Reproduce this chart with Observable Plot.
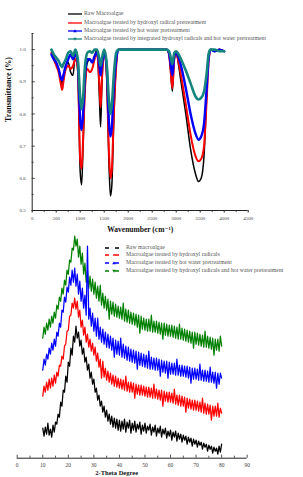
<!DOCTYPE html>
<html><head><meta charset="utf-8">
<script src="https://cdn.jsdelivr.net/npm/d3@7"></script>
<script src="https://cdn.jsdelivr.net/npm/@observablehq/plot@0.6"></script>
<style>
body{margin:0;background:#fff;}
#wrap{position:relative;width:303px;height:477px;overflow:hidden;font-family:"Liberation Serif","DejaVu Serif",serif;}
#wrap svg.plotsvg{position:absolute;left:0;background:transparent;overflow:visible;}
.leg{position:absolute;font-size:5.8px;color:#555;white-space:nowrap;line-height:1;}
.leg svg{position:absolute;top:0;left:0;}
</style></head>
<body><div id="wrap"></div>
<script>
// ---------- FTIR (top) ----------
const ftirWavenumber = [400,450,500,550,600,625,650,700,750,800,850,900,950,1000,1030,1060,1100,1150,1200,1250,1300,1350,1400,1425,1450,1500,1550,1600,1630,1660,1700,1750,1800,1850,2000,2500,2800,2850,2880,2920,2960,3000,3050,3100,3200,3300,3400,3465,3520,3580,3630,3680,3720,3800,3900,4000];
const ftirRaw = [1.0,0.975,0.96,0.94,0.91,0.89,0.92,0.95,0.96,0.93,0.92,0.99,0.93,0.62,0.58,0.70,0.88,0.96,0.97,0.96,0.98,1.0,0.85,0.76,0.88,0.99,0.92,0.64,0.545,0.58,0.78,0.95,1.0,1.0,1.0,1.0,1.0,0.985,0.94,0.87,0.97,0.99,0.95,0.90,0.80,0.69,0.615,0.59,0.60,0.67,0.84,0.99,1.0,0.995,1.0,0.995];
const ftirHydroxyl = [0.99,0.97,0.95,0.93,0.89,0.875,0.90,0.94,0.95,0.94,0.95,0.97,0.94,0.66,0.63,0.72,0.88,0.94,0.93,0.94,0.97,0.99,0.89,0.82,0.90,0.99,0.93,0.68,0.60,0.63,0.80,0.95,1.0,1.0,1.0,1.0,1.0,0.985,0.94,0.88,0.97,0.99,0.96,0.92,0.83,0.735,0.67,0.653,0.66,0.70,0.83,0.97,1.0,0.995,1.0,0.995];
const ftirHotWater = [0.985,0.97,0.96,0.94,0.91,0.905,0.92,0.95,0.97,0.985,0.97,0.99,0.96,0.78,0.75,0.80,0.92,0.97,0.97,0.96,0.98,0.99,0.95,0.92,0.95,0.99,0.95,0.77,0.73,0.76,0.88,0.97,1.0,1.0,1.0,1.0,1.0,0.99,0.96,0.92,0.98,0.99,0.975,0.95,0.88,0.80,0.74,0.72,0.73,0.77,0.87,0.98,1.0,0.995,1.0,0.995];
const ftirIntegrated = [1.0,0.985,0.975,0.965,0.95,0.945,0.955,0.97,0.99,0.995,0.98,1.0,0.97,0.85,0.815,0.85,0.95,0.99,0.995,0.99,1.0,1.0,0.97,0.95,0.97,1.0,0.96,0.84,0.80,0.83,0.92,0.99,1.0,1.0,1.0,1.0,1.0,0.995,0.98,0.955,0.99,0.995,0.985,0.97,0.935,0.895,0.855,0.845,0.85,0.87,0.92,0.99,1.0,1.0,0.995,0.995];
const ftirLegend = ["Raw Macroalgae","Macroalgae treated by hydroxyl radical pretreatment","Macroalgae treated by hot water pretreatment","Macroalgae treated by integrated hydroxyl radicals and hot water pretreatment"];
const ftirColors = ["#000000","#ff0000","#0000ff","#15857d"];
const ftirXTicks = [0,500,1000,1500,2000,2500,3000,3500,4000,4500];
const ftirXMinor = [250,750,1250,1750,2250,2750,3250,3750,4250];
const ftirYTicks = [0.5,0.6,0.7,0.8,0.9,1.0];
const ftirYMinor = [0.55,0.65,0.75,0.85,0.95,1.05];

// ---------- XRD (bottom) ----------
const xrdTwoTheta = [10,10.5,11,11.5,12,12.5,13,13.5,14,14.5,15,15.5,16,16.5,17,17.5,18,18.5,19,19.5,20,20.5,21,21.5,22,22.5,23,23.5,24,24.5,25,25.5,26,26.5,27,27.5,28,28.5,29,29.5,30,30.5,31,31.5,32,32.5,33,33.5,34,34.5,35,35.5,36,36.5,37,37.5,38,38.5,39,39.5,40,40.5,41,41.5,42,42.5,43,43.5,44,44.5,45,45.5,46,46.5,47,47.5,48,48.5,49,49.5,50,50.5,51,51.5,52,52.5,53,53.5,54,54.5,55,55.5,56,56.5,57,57.5,58,58.5,59,59.5,60,60.5,61,61.5,62,62.5,63,63.5,64,64.5,65,65.5,66,66.5,67,67.5,68,68.5,69,69.5,70,70.5,71,71.5,72,72.5,73,73.5,74,74.5,75,75.5,76,76.5,77,77.5,78,78.5,79,79.5,80];
const xrdRaw = [30,22,31,24,35,23,29,21,33,26, 36,34,44,41,56,52,68,66,82,76, 96,92,110,103,122,116,132,120,126,112, 118,104,110,96,101,88,94,80,86,74, 79,66,70,58,63,52,57,46,52,41, 48,37,44,34,42,31,40,30,39,28, 38,27,37,29,39,26,36,30,38,25, 35,28,37,26,34,29,36,24,33,27, 35,25,32,28,34,23,31,26,33,22, 30,25,32,21,29,24,30,20,27,22, 28,18,26,21,27,17,25,19,24,16, 23,18,22,14,21,16,20,12,19,14, 18,11,17,13,16,9,15,11,14,7, 13,9,12,5,11,7,10,4,12,6, 14];
const xrdHydroxyl = [62,72,66,76,68,79,70,80,72,83, 75,86,82,93,92,102,99,112,114,127, 128,142,143,155,150,160,149,157,141,148, 131,138,123,131,116,124,111,119,107,115, 103,111,97,105,91,99,80,97,81,90, 78,87,76,85,74,83,72,82,71,80, 70,79,69,78,68,82,67,76,66,76, 66,75,60,74,64,73,63,73,63,72, 62,71,61,71,61,70,60,74,60,69, 59,68,58,68,52,67,57,66,56,66, 56,65,55,69,54,63,53,63,52,62, 52,61,46,60,50,59,49,58,48,58, 48,57,47,56,46,60,45,55,44,54, 44,53,38,52,42,52,42,55,41,50, 45];
const xrdHotWater = [88,99,93,104,99,110,104,115,108,119, 112,126,122,135,131,148,146,161,156,171, 166,181,173,188,176,190,172,184,164,177, 157,170,150,163,143,212,139,150,132,145, 127,140,122,140,119,131,116,129,114,126, 111,124,110,122,108,120,101,118,104,117, 103,120,101,114,100,112,98,111,97,109, 96,108,95,107,89,106,93,105,92,104, 91,103,90,107,89,101,89,100,88,100, 88,99,82,98,86,97,85,97,80,96, 84,95,84,95,83,99,83,93,82,93, 82,92,81,92,80,91,75,90,79,90, 79,89,78,94,78,88,77,88,77,87, 76,91,76,86,75,86,70,85,74,85, 80];
const xrdIntegrated = [120,131,124,135,128,139,131,142,135,146, 140,153,149,161,157,170,164,178,173,188, 184,198,196,210,208,222,212,219,201,212, 194,205,184,195,176,188,170,182,167,179, 164,176,160,172,157,173,153,165,150,162, 148,159,139,157,144,156,142,154,141,152, 140,151,139,155,137,149,136,148,135,146, 134,145,133,144,131,143,125,142,129,140, 128,139,127,139,127,143,126,137,126,137, 125,136,124,135,119,135,123,134,122,133, 122,133,121,132,120,131,119,134,119,130, 118,129,117,128,116,127,115,126,110,126, 114,125,113,124,112,123,111,127,111,122, 110,121,109,120,103,119,108,119,107,122, 112];
const xrdLegend = ["Raw macroalgae","Macroalgae treated by hydroxyl radicals","Macroalgae treated by hot water pretreatment","Macroalgae treated by hydroxyl radicals and hot water pretreatment"];
const xrdColors = ["#000000","#ff0000","#0000ff","#008000"];
const xrdXTicks = [0,10,20,30,40,50,60,70,80,90];
const xrdXMinor = [5,15,25,35,45,55,65,75,85];

const FONT = '"Liberation Serif","DejaVu Serif",serif';
const wrap = document.getElementById("wrap");

// ---------- top chart ----------
const ftirSeries = [ftirRaw, ftirHydroxyl, ftirHotWater, ftirIntegrated];
const ftirWidths = [1.5, 2, 2.4, 2.6];
const ftirChart = Plot.plot({
  width: 303, height: 240,
  marginLeft: 31.7, marginRight: 55.3, marginTop: 33, marginBottom: 30,
  x: {domain: [0, 4500]},
  y: {domain: [0.5, 1.05]},
  style: {fontFamily: FONT, fontSize: "5px", background: "transparent", color: "#333"},
  marks: [
    ...ftirSeries.map((s, k) => Plot.line(s, {x: (d, i) => ftirWavenumber[i], y: d => d, stroke: ftirColors[k], strokeWidth: ftirWidths[k], curve: "monotone-x"})),
    Plot.ruleX([0], {y1: 0.5, y2: 1.05, stroke: "#222", strokeWidth: 1}),
    Plot.ruleY([0.5], {x1: 0, x2: 4500, stroke: "#222", strokeWidth: 1}),
    Plot.ruleY(ftirYTicks, {y: d => d, x1: 0, x2: 65, stroke: "#222", strokeWidth: 0.8}),
    Plot.ruleY(ftirYMinor, {y: d => d, x1: 0, x2: 40, stroke: "#222", strokeWidth: 0.8}),
    Plot.axisX(ftirXTicks, {tickSize: 2.5, tickPadding: 3, tickFormat: d => String(d), fill: "#444", stroke: "#222", label: null}),
    Plot.axisX(ftirXMinor, {tickSize: 1.8, tickFormat: () => "", stroke: "#222", label: null}),
    Plot.axisY(ftirYTicks, {tickSize: 0, tickPadding: 6.5, tickFormat: d3.format(".1f"), fill: "#444", label: null}),
    Plot.text(["Transmittance (%)"], {frameAnchor: "left", rotate: -90, dx: -24, fontSize: 8, fontWeight: "bold", fill: "#111"}),
    Plot.text(["Wavenumber (cm\u207B\u00B9)"], {frameAnchor: "bottom", dy: 21, fontSize: 7.5, fontWeight: "bold", fill: "#111"})
  ]
});
ftirChart.classList.add("plotsvg");
ftirChart.style.top = "0px";
wrap.appendChild(ftirChart);

// ---------- bottom chart ----------
const xrdSeries = [xrdRaw, xrdHydroxyl, xrdHotWater, xrdIntegrated];
const xrdChart = Plot.plot({
  width: 303, height: 252,
  marginLeft: 16.7, marginRight: 56.3, marginTop: 7.7, marginBottom: 19.3,
  x: {domain: [0, 90]},
  y: {domain: [0, 225], axis: null},
  style: {fontFamily: FONT, fontSize: "5.5px", background: "transparent", color: "#333"},
  marks: [
    ...[3, 2, 1, 0].map(k => Plot.line(xrdSeries[k], {x: (d, i) => xrdTwoTheta[i], y: d => d, stroke: xrdColors[k], strokeWidth: 1.25})),
    Plot.ruleY([0], {x1: 0, x2: 90, stroke: "#222", strokeWidth: 1}),
    Plot.ruleX(xrdXTicks, {x: d => d, y1: 0, y2: 3, stroke: "#222", strokeWidth: 0.8}),
    Plot.ruleX(xrdXMinor, {x: d => d, y1: 0, y2: 2, stroke: "#222", strokeWidth: 0.8}),
    Plot.axisX(xrdXTicks, {tickSize: 0, tickPadding: 5, fill: "#444", label: null}),
    Plot.text(["2-Theta Degree"], {frameAnchor: "bottom", dy: 16.5, dx: -15.5, fontSize: 6.5, fontWeight: "bold", fill: "#111"})
  ]
});
xrdChart.classList.add("plotsvg");
xrdChart.style.top = "225px";
wrap.appendChild(xrdChart);

// ---------- legends ----------
function marker(kind, cx, cy, color) {
  if (kind === "up") return `<path d="M${cx},${cy-1.8}L${cx+1.8},${cy+1.3}L${cx-1.8},${cy+1.3}Z" fill="${color}"/>`;
  if (kind === "down") return `<path d="M${cx},${cy+1.8}L${cx+1.8},${cy-1.3}L${cx-1.8},${cy-1.3}Z" fill="${color}"/>`;
  if (kind === "dot") return `<circle cx="${cx}" cy="${cy}" r="0.9" fill="${color}"/>`;
  return "";
}
const topYs = [14, 22.5, 31, 39];
const topMarks = ["", "", "up", "down"];
ftirLegend.forEach((t, k) => {
  const d = document.createElement("div");
  d.className = "leg";
  d.style.left = "68px"; d.style.top = (topYs[k] - 3) + "px";
  d.innerHTML = `<svg width="16" height="6"><line x1="0" x2="14" y1="3" y2="3" stroke="${ftirColors[k]}" stroke-width="1.3"/>${marker(topMarks[k], 7, 3, ftirColors[k])}</svg><span style="position:absolute;left:16px;top:0.2px">${t}</span>`;
  wrap.appendChild(d);
});
const botYs = [247.7, 255, 262.7, 271];
const botMarks = ["", "dot", "up", "down"];
xrdLegend.forEach((t, k) => {
  const d = document.createElement("div");
  d.className = "leg";
  d.style.left = "105px"; d.style.top = (botYs[k] - 3) + "px";
  d.innerHTML = `<svg width="20" height="6"><line x1="0" x2="18" y1="3" y2="3" stroke="${xrdColors[k]}" stroke-width="1.3" stroke-dasharray="4,6"/>${marker(botMarks[k], 9, 3, xrdColors[k])}</svg><span style="position:absolute;left:21px;top:0.2px">${t}</span>`;
  wrap.appendChild(d);
});
</script>
</body></html>
